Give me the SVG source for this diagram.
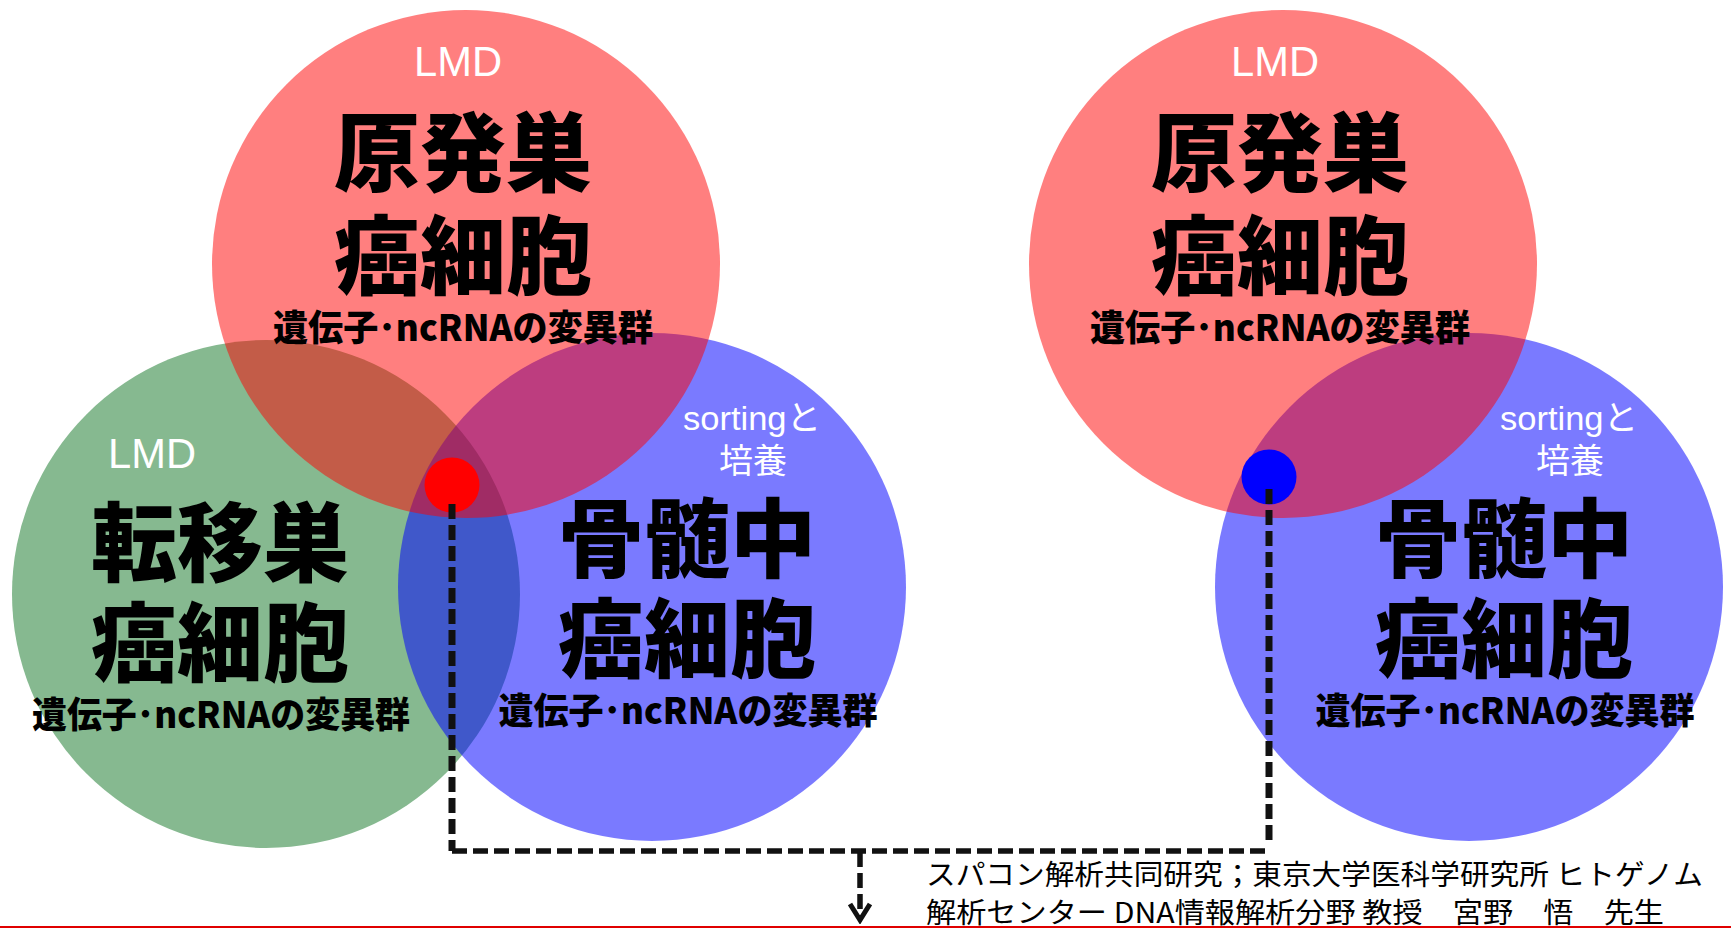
<svg xmlns="http://www.w3.org/2000/svg" width="1731" height="928" viewBox="0 0 1731 928">
<defs>
<style>
.bg{fill:#fff}
.green{fill:#86B990}
.blue{fill:#0000FF;fill-opacity:0.52}
.red{fill:#FF0000;fill-opacity:0.5}
.jp{font-family:"Noto Sans CJK JP","Liberation Sans",sans-serif;text-anchor:middle;fill:#000}
.big{font-size:86px;font-weight:900}
.sub{font-size:36px;font-weight:900}
.w{font-family:"Liberation Sans","Noto Sans CJK JP",sans-serif;fill:#fff;text-anchor:middle}
.lmd{font-size:43px}
.srt{font-size:34px}
.cap{font-family:"Noto Sans CJK JP","Liberation Sans",sans-serif;font-size:28px;fill:#000}
.dash{fill:none;stroke:#111;stroke-dasharray:15 6}
</style>
<marker id="arrowV" viewBox="-20 -14 24 28" refX="0" refY="0" markerUnits="userSpaceOnUse" markerWidth="24" markerHeight="28" orient="auto">
<path d="M-16,-10 L0,0 L-16,10" fill="none" stroke="#111" stroke-width="5"/>
</marker>
</defs>
<rect class="bg" x="0" y="0" width="1731" height="928"/>

<g id="metastatic-cells">
<circle class="green" cx="266" cy="594" r="254"/>
<text class="w lmd" x="152" y="468" textLength="88" lengthAdjust="spacingAndGlyphs">LMD</text>
<text class="jp big" x="220" y="575">転移巣</text>
<text class="jp big" x="220" y="675">癌細胞</text>
<text class="jp sub" x="221" y="728" textLength="378" lengthAdjust="spacingAndGlyphs">遺伝子･ncRNAの変異群</text>
</g>

<g id="bone-marrow-cells-left">
<circle class="blue" cx="652" cy="587" r="254"/>
<text class="w srt" x="752" y="430" textLength="138" lengthAdjust="spacingAndGlyphs">sortingと</text>
<text class="w srt" x="753" y="473">培養</text>
<text class="jp big" x="687" y="571">骨髄中</text>
<text class="jp big" x="687" y="671">癌細胞</text>
<text class="jp sub" x="688" y="724" textLength="379" lengthAdjust="spacingAndGlyphs">遺伝子･ncRNAの変異群</text>
</g>

<g id="primary-cells-left">
<circle class="red" cx="466" cy="264" r="254"/>
<text class="w lmd" x="458" y="76" textLength="88" lengthAdjust="spacingAndGlyphs">LMD</text>
<text class="jp big" x="463" y="185">原発巣</text>
<text class="jp big" x="463" y="288">癌細胞</text>
<text class="jp sub" x="463" y="341" textLength="380" lengthAdjust="spacingAndGlyphs">遺伝子･ncRNAの変異群</text>
</g>

<g id="bone-marrow-cells-right">
<circle class="blue" cx="1469" cy="587" r="254"/>
<text class="w srt" x="1569" y="430" textLength="138" lengthAdjust="spacingAndGlyphs">sortingと</text>
<text class="w srt" x="1570" y="473">培養</text>
<text class="jp big" x="1504" y="571">骨髄中</text>
<text class="jp big" x="1504" y="671">癌細胞</text>
<text class="jp sub" x="1505" y="724" textLength="379" lengthAdjust="spacingAndGlyphs">遺伝子･ncRNAの変異群</text>
</g>

<g id="primary-cells-right">
<circle class="red" cx="1283" cy="264" r="254"/>
<text class="w lmd" x="1275" y="76" textLength="88" lengthAdjust="spacingAndGlyphs">LMD</text>
<text class="jp big" x="1280" y="185">原発巣</text>
<text class="jp big" x="1280" y="288">癌細胞</text>
<text class="jp sub" x="1280" y="341" textLength="380" lengthAdjust="spacingAndGlyphs">遺伝子･ncRNAの変異群</text>
</g>

<g id="sample-triple">
<circle cx="452" cy="485" r="27.5" fill="#FF0000"/>
</g>
<g id="sample-double">
<circle cx="1269" cy="477" r="27.5" fill="#0000FF"/>
</g>

<g id="connectors">
<path class="dash" d="M452,504 V851" stroke-width="7"/>
<path class="dash" d="M1269,489 V846" stroke-width="7"/>
<path class="dash" d="M452,851 H1268" stroke-width="5.5"/>
<path class="dash" d="M860,852 V920" stroke-width="5.5" marker-end="url(#arrowV)"/>
</g>

<g id="caption">
<text class="cap" x="926" y="885" textLength="777" lengthAdjust="spacingAndGlyphs">スパコン解析共同研究；東京大学医科学研究所 ヒトゲノム</text>
<text class="cap" x="926" y="923" textLength="738" lengthAdjust="spacingAndGlyphs">解析センター DNA情報解析分野 教授　宮野　悟　先生</text>
</g>

<line x1="0" y1="927" x2="1731" y2="927" stroke="#E00000" stroke-width="2"/>
</svg>
